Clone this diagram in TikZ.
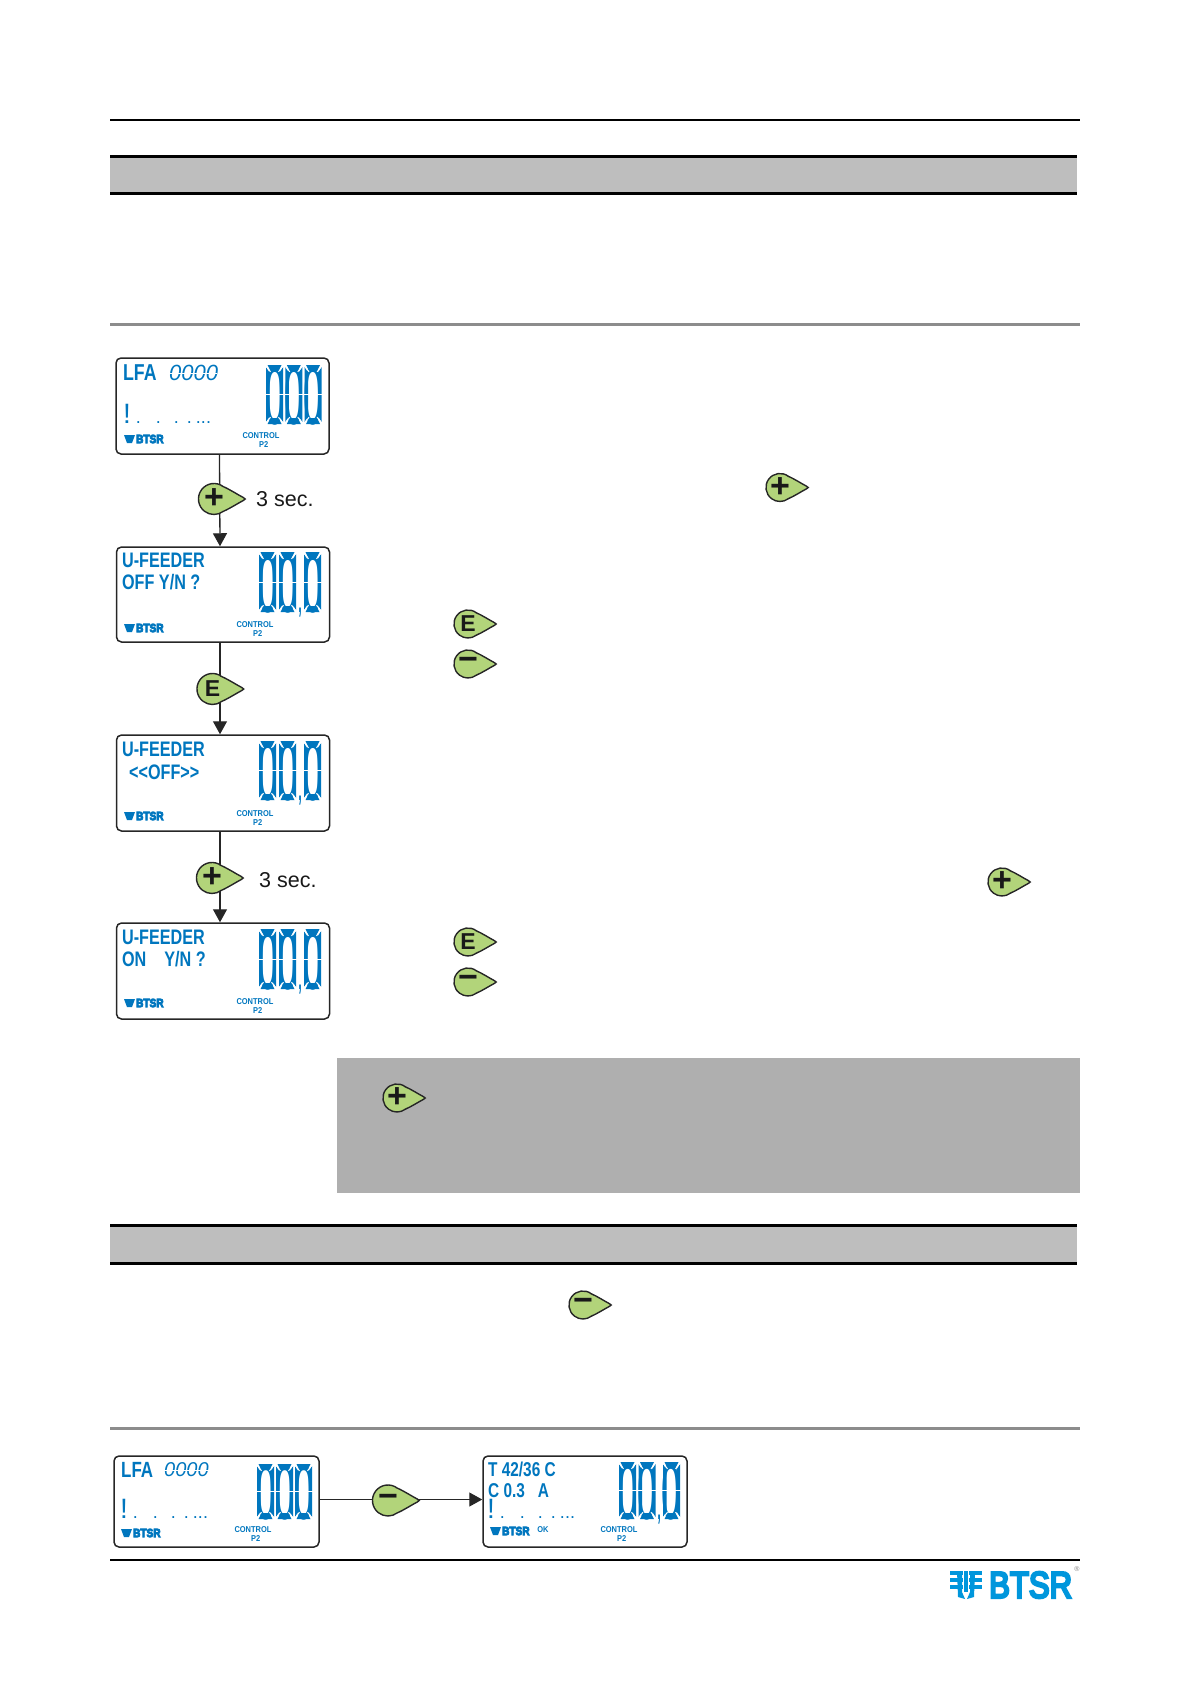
\documentclass[tikz,border=0pt]{standalone}
\usepackage{fontspec}
\setmainfont{Liberation Sans}
\newfontfamily\brandfont[FakeBold=7]{Liberation Sans}
\usetikzlibrary{arrows.meta}
\definecolor{lcdblue}{RGB}{0,118,190}
\definecolor{logoblue}{RGB}{0,150,220}
\definecolor{keygreen}{RGB}{178,212,122}
\definecolor{bandgray}{RGB}{190,190,190}
\definecolor{notegray}{RGB}{175,175,175}
\definecolor{rulegray}{RGB}{140,140,140}

% one figure of the display, in segments
\newcommand{\lcdzero}[3]{%
    \fill[lcdblue] (#1+1.5,#2) -- (#1+15.5,#2) -- (#1+12.5,#2+6) -- (#1+4.5,#2+6) -- cycle;
    \fill[lcdblue] (#1+1.5,#3) -- (#1+15.5,#3) -- (#1+12.5,#3-6) -- (#1+4.5,#3-6) -- cycle;
    \fill[lcdblue] (#1,#2+2) -- (#1+3.5,#2+7.5) -- (#1+3.5,#2/2+#3/2) -- (#1,#2/2+#3/2) -- cycle;
    \fill[lcdblue] (#1+17,#2+2) -- (#1+13.5,#2+7.5) -- (#1+13.5,#2/2+#3/2) -- (#1+17,#2/2+#3/2) -- cycle;
    \fill[lcdblue] (#1,#3-2) -- (#1+3.5,#3-7.5) -- (#1+3.5,#2/2+#3/2) -- (#1,#2/2+#3/2) -- cycle;
    \fill[lcdblue] (#1+17,#3-2) -- (#1+13.5,#3-7.5) -- (#1+13.5,#2/2+#3/2) -- (#1+17,#2/2+#3/2) -- cycle;
    \draw[lcdcut] (#1-1,#2/2+#3/2) -- (#1+18,#2/2+#3/2);
    \draw[lcdcut] (#1-.5,#2+.5) -- (#1+4.5,#2+6.8) (#1+17.5,#2+.5) -- (#1+12.5,#2+6.8);
    \draw[lcdcut] (#1-.5,#3-.5) -- (#1+4.5,#3-6.8) (#1+17.5,#3-.5) -- (#1+12.5,#3-6.8);
}
% big display figures
\newcommand{\lcddigits}[6][]{%
    \node[lcdbig, #1, anchor=base west] (#2) at (#3-1,#5) {#6};
}
% key of the panel
\newcommand{\keydrop}[6][]{%
    \begin{scope}[shift={(#3+1,#4+1)}, scale=#5]
        \draw[keyshape] (0.6,-0.8) arc (-53:-307:1)
            .. controls (1.05,0.6) and (1.5,0.3) .. (1.9,0.09)
            .. controls (2.05,0.03) and (2.05,-0.03) .. (1.9,-0.09)
            .. controls (1.5,-0.3) and (1.05,-0.6) .. cycle;
    \end{scope}
    \node[keylabel, #1] (#2) at (#3+1,#4+1) {#6};
}
% small mark on the display
\newcommand{\lcdlogo}[3]{%
    \fill[lcdblue] (#2,#3-4) -- (#2+11,#3-4) -- (#2+8,#3+4) -- (#2+3,#3+4) -- cycle;
    \node[lcdmark] (#1) at (#2+12,#3) {BTSR};
}
% row of marks under the name
\newcommand{\lcdprompt}{{\fontsize{28}{28}\selectfont !}\hspace{5pt}.\hspace{15pt}.\hspace{13pt}.\hspace{8pt}.\hspace{4pt}...}

\begin{document}
\begin{tikzpicture}[
        x=1pt, y=-1pt,
        lcdbox/.style={draw=black!85, line width=1.5pt, rounded corners=5pt, minimum width=213pt,
                    minimum height=96pt, inner sep=0pt},
        lcdbig/.style={text=lcdblue, font=\fontsize{83}{83}\selectfont, xscale=.42, transform shape, inner sep=0pt},
        lcdcut/.style={white, line width=1pt},
        lcdline/.style={text=lcdblue, font=\fontsize{21}{21}\selectfont\bfseries, xscale=.77, transform shape, anchor=west, inner sep=0pt},
        lcdcount/.style={text=lcdblue, font=\fontsize{22}{22}\selectfont\itshape, anchor=west, inner sep=0pt},
        lcddots/.style={text=lcdblue, font=\fontsize{18}{18}\selectfont, anchor=west, inner sep=0pt},
        lcdsmall/.style={text=lcdblue, font=\fontsize{8.5}{9}\selectfont\bfseries, xscale=.88, transform shape, align=center, inner sep=0pt},
        lcdmark/.style={text=lcdblue, font=\fontsize{12}{12}\brandfont\bfseries, xscale=.84, transform shape, anchor=west, inner sep=0pt},
        keyshape/.style={draw=black!85, line width=1.4pt, fill=keygreen},
        keylabel/.style={text=black!90, font=\fontsize{34}{34}\selectfont\bfseries, inner sep=0pt},
        keyletter/.style={font=\fontsize{23}{23}\selectfont\bfseries},
        flow/.style={draw=black!85, line width=1.3pt, -{Triangle[length=13pt, width=14pt]}},
        timing/.style={text=black!90, font=\fontsize{21.5}{21.5}\selectfont, anchor=west, inner sep=0pt},
    ]
    \useasboundingbox (0,0) rectangle (1190,1684);

    % page rules and bands
    \draw[line width=2pt] (110,119.5) -- (1080,119.5);
    \fill[bandgray] (110,156) rectangle (1077,193);
    \draw[line width=3pt] (110,156) -- (1077,156) (110,193) -- (1077,193);
    \draw[rulegray, line width=3pt] (110,324) -- (1080,324);
    \fill[notegray] (337,1058) rectangle (1080,1193);
    \fill[bandgray] (110,1225) rectangle (1077,1263);
    \draw[line width=3pt] (110,1225) -- (1077,1225) (110,1263) -- (1077,1263);
    \draw[rulegray, line width=3pt] (110,1428) -- (1080,1428);
    \draw[line width=2pt] (110,1560) -- (1080,1560);

    % displays of the left column
    \node[lcdbox] (lfa)  at (222.5,406) {};
    \node[lcdbox, minimum height=95pt] (off)  at (223,594.5) {};
    \node[lcdbox] (mode) at (223,783) {};
    \node[lcdbox] (on)   at (223,971) {};

    % displays of the bottom row
    \node[lcdbox, minimum width=205pt, minimum height=91pt] (lfab) at (216.5,1501.5) {};
    \node[lcdbox, minimum width=204pt, minimum height=91pt] (temp) at (585,1501.5) {};

    \draw[flow] ([xshift=-3pt]lfa.south) -- ([xshift=-3pt]off.north);
    \draw[flow] ([xshift=-3pt]off.south) -- ([xshift=-3pt]mode.north);
    \draw[flow] ([xshift=-3pt]mode.south) -- ([xshift=-3pt]on.north);
    \draw[flow] ([yshift=2pt]lfab.east) -- ([yshift=2pt]temp.west);

    % first display
    \node[lcdline, font=\fontsize{23}{23}\selectfont\bfseries] (lfaname) at (123,373) {LFA};
    \node[lcdcount] (lfacount) at (169,373) {0000};
    \draw[lcdcut] (169,373) -- (217,373);
    \node[lcddots] (lfadots) at (123,414) {\lcdprompt};
    \lcdlogo{lfalogo}{124}{439}
    \node[lcdsmall] (lfactrl) at (261,440.5) {CONTROL\\\hspace*{6pt}P2};
    \lcddigits{lfadig}{266}{365}{424}{000}
    \foreach \digx in {0,19.3,38.6} { \lcdzero{266+\digx}{365}{424} }

    % second display
    \node[lcdline] (offname) at (122,560) {U-FEEDER};
    \node[lcdline] (offask)  at (122,582) {OFF Y/N ?};
    \lcdlogo{offlogo}{124}{628}
    \node[lcdsmall] (offctrl) at (255,629) {CONTROL\\\hspace*{6pt}P2};
    \lcddigits{offdig}{259}{552}{612}{0\kern1.4pt0\kern2.5pt{\fontsize{30}{30}\selectfont\bfseries,}\kern2.5pt0}
    \foreach \digx in {0,20,45} { \lcdzero{259+\digx}{552}{612} }

    % third display
    \node[lcdline] (modename) at (122,749) {U-FEEDER};
    \node[lcdline] (modeval)  at (129,772) {<{}<OFF>{}>};
    \lcdlogo{modelogo}{124}{816}
    \node[lcdsmall] (modectrl) at (255,818) {CONTROL\\\hspace*{6pt}P2};
    \lcddigits{modedig}{259}{741}{800}{0\kern1.4pt0\kern2.5pt{\fontsize{30}{30}\selectfont\bfseries,}\kern2.5pt0}
    \foreach \digx in {0,20,45} { \lcdzero{259+\digx}{741}{800} }

    % fourth display
    \node[lcdline] (onname) at (122,937) {U-FEEDER};
    \node[lcdline] (onask)  at (122,959) {ON\ \ \ \ Y/N ?};
    \lcdlogo{onlogo}{124}{1003}
    \node[lcdsmall] (onctrl) at (255,1006.5) {CONTROL\\\hspace*{6pt}P2};
    \lcddigits{ondig}{259}{929}{989}{0\kern1.4pt0\kern2.5pt{\fontsize{30}{30}\selectfont\bfseries,}\kern2.5pt0}
    \foreach \digx in {0,20,45} { \lcdzero{259+\digx}{929}{989} }

    % bottom left display
    \node[lcdline, font=\fontsize{22}{22}\selectfont\bfseries] (lfabname) at (121,1470) {LFA};
    \node[lcdcount, font=\fontsize{20}{20}\selectfont\itshape] (lfabcount) at (164,1470) {0000};
    \draw[lcdcut] (164,1470) -- (212,1470);
    \node[lcddots] (lfabdots) at (120,1509) {\lcdprompt};
    \lcdlogo{lfablogo}{121}{1533}
    \node[lcdsmall] (lfabctrl) at (253,1534.5) {CONTROL\\\hspace*{6pt}P2};
    \lcddigits[font=\fontsize{78}{78}\selectfont, xscale=1.06]{lfabdig}{257}{1464}{1519}{000}
    \foreach \digx in {0,19,38} { \lcdzero{257+\digx}{1464}{1519} }

    % bottom right display
    \node[lcdline, font=\fontsize{20}{20}\selectfont\bfseries] (tempval) at (488,1469) {T 42/36 C};
    \node[lcdline, font=\fontsize{20}{20}\selectfont\bfseries] (curval)  at (488,1491) {C 0.3\ \ \ A};
    \node[lcddots] (tempdots) at (487,1509) {\lcdprompt};
    \lcdlogo{templogo}{490}{1531}
    \node[lcdsmall] (tempok) at (543,1530) {OK};
    \node[lcdsmall] (tempctrl) at (619,1534.5) {CONTROL\\\hspace*{6pt}P2};
    \lcddigits[font=\fontsize{80}{80}\selectfont, xscale=1.03]{tempdig}{619}{1462}{1519}{0\kern1pt0\kern1pt{\fontsize{30}{30}\selectfont\bfseries,}\kern1pt0}
    \foreach \digx in {0,19.5,44} { \lcdzero{619+\digx}{1462}{1519} }

    % keys on the connectors
    \keydrop{keyplusa}{213}{498}{15.5}{+}
    \node[timing] (timea) at (256,499) {3 sec.};
    \keydrop[keyletter]{keye}{211.5}{688}{15.5}{E}
    \keydrop{keyplusb}{211}{877}{15.5}{+}
    \node[timing] (timeb) at (259,880) {3 sec.};
    \keydrop{keyminusb}{387}{1499.5}{15.5}{\raisebox{-3pt}{−}}

    % keys of the right column
    \keydrop{keyplusc}{779}{486.5}{14}{+}
    \keydrop[keyletter]{keyea}{467}{623}{14}{E}
    \keydrop{keyminusa}{467}{663}{14}{\raisebox{-3pt}{−}}
    \keydrop{keyplusd}{1001}{881}{14}{+}
    \keydrop[keyletter]{keyeb}{467}{941}{14}{E}
    \keydrop{keyminusc}{467}{981}{14}{\raisebox{-3pt}{−}}
    \keydrop{keypluse}{396}{1097}{14}{+}
    \keydrop{keyminusd}{582}{1304}{14}{\raisebox{-3pt}{−}}

    % maker's mark
    \foreach \bary in {1571,1578,1585} {
        \fill[logoblue] (950,\bary) rectangle (963,\bary+4);
        \fill[logoblue] (969,\bary) rectangle (982,\bary+4);
    }
    \fill[logoblue] (957,1571) -- (962,1571) -- (962,1592) -- (965,1599) -- (958,1597) -- cycle;
    \fill[logoblue] (964,1571) -- (968,1571) -- (968,1592) -- (964,1592) -- cycle;
    \fill[logoblue] (970,1571) -- (975,1571) -- (974,1597) -- (967,1599) -- (970,1592) -- cycle;
    \node[text=logoblue, font=\fontsize{37}{37}\brandfont, xscale=.84, transform shape, anchor=west, inner sep=0pt] (brand) at (989,1585) {BTSR};
    \node[text=black!50, font=\fontsize{7}{7}\selectfont, inner sep=0pt] (brandreg) at (1077,1569) {®};
\end{tikzpicture}
\end{document}
